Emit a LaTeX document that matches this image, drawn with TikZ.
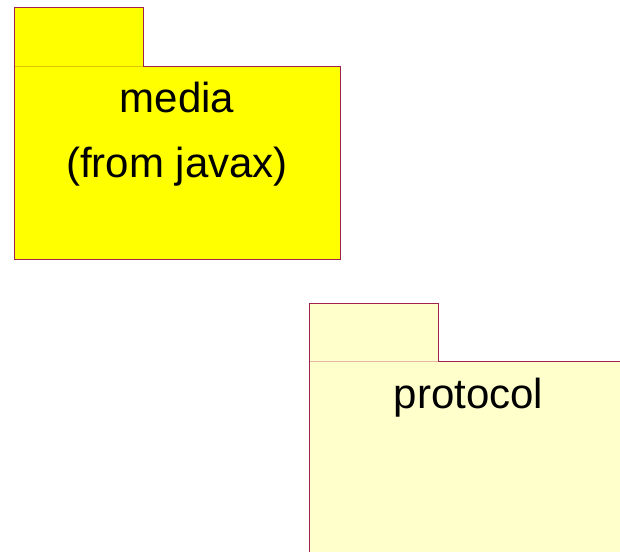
\documentclass[tikz,border=0pt]{standalone}
\usepackage{fontspec}
\setmainfont{Liberation Sans}
\definecolor{pkgborder}{HTML}{A0234F}
\definecolor{mediafill}{HTML}{FFFF00}
\definecolor{protofill}{HTML}{FFFFCC}
\definecolor{mediasep}{HTML}{E0C800}
\definecolor{protosep}{HTML}{E8B4A8}
\tikzset{
  pkgshape/.style={draw=pkgborder, line width=1pt},
  pkglabel/.style={font=\fontsize{42}{65}\selectfont, align=center, anchor=base, inner sep=0pt}
}
\begin{document}
\begin{tikzpicture}[x=1pt, y=-1pt]
\useasboundingbox (0,0) rectangle (620,551);
\begin{scope}
\clip (0,0) rectangle (620,551);
% media package
\path[pkgshape, fill=mediafill] (14,8) rectangle (143,66);
\path[pkgshape, fill=mediafill] (14,66) rectangle (340,259);
\draw[mediasep, line width=1pt] (14.5,66) -- (142.5,66);
\node[pkglabel] (media) at (177,112) {media};
\node[pkglabel] (mediafrom) at (177,177) {(from javax)};
% protocol package
\path[pkgshape, fill=protofill] (309,303) rectangle (438,361);
\path[pkgshape, fill=protofill] (309,361) rectangle (628,600);
\draw[protosep, line width=1pt] (309.5,361) -- (437.5,361);
\node[pkglabel] (protocol) at (468.5,408) {protocol};
\end{scope}
\end{tikzpicture}
\end{document}
